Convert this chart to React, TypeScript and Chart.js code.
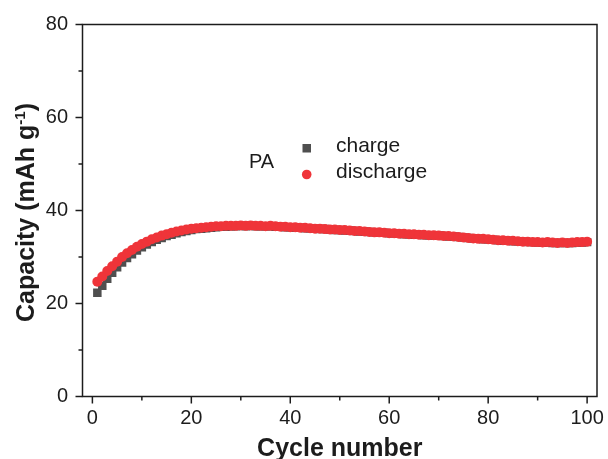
import React, { useEffect, useRef } from "react";
import { Chart, registerables } from "chart.js";

Chart.register(...registerables);

// ---- data ----
const chargeCapacity: number[] = [
  22.3, 23.8, 25.3, 26.6, 27.8, 28.8, 29.8, 30.6, 31.4, 32.1,
  32.7, 33.2, 33.7, 34.1, 34.5, 34.8, 35.1, 35.4, 35.6, 35.8,
  36.0, 36.1, 36.2, 36.3, 36.4, 36.5, 36.5, 36.6, 36.6, 36.7,
  36.6, 36.7, 36.6, 36.6, 36.6, 36.6, 36.5, 36.5, 36.4, 36.4,
  36.3, 36.3, 36.2, 36.2, 36.1, 36.0, 36.0, 35.9, 35.8, 35.8,
  35.7, 35.7, 35.6, 35.5, 35.5, 35.4, 35.3, 35.2, 35.2, 35.1,
  35.1, 35.0, 34.9, 34.9, 34.8, 34.8, 34.7, 34.7, 34.6, 34.6,
  34.5, 34.4, 34.4, 34.3, 34.2, 34.1, 34.0, 33.9, 33.8, 33.8,
  33.7, 33.6, 33.5, 33.5, 33.4, 33.4, 33.3, 33.2, 33.2, 33.1,
  33.1, 33.1, 33.0, 33.0, 33.0, 33.0, 33.0, 33.1, 33.1, 33.2,
];

const dischargeCapacity: number[] = [
  24.7, 25.8, 27.0, 28.0, 29.0, 30.0, 30.8, 31.5, 32.2, 32.8,
  33.3, 33.8, 34.2, 34.6, 34.9, 35.2, 35.5, 35.7, 35.9, 36.1,
  36.2, 36.3, 36.4, 36.5, 36.6, 36.6, 36.7, 36.7, 36.7, 36.8,
  36.7, 36.8, 36.7, 36.7, 36.6, 36.7, 36.6, 36.5, 36.5, 36.4,
  36.4, 36.3, 36.3, 36.2, 36.1, 36.1, 36.0, 35.9, 35.9, 35.8,
  35.8, 35.7, 35.6, 35.6, 35.5, 35.4, 35.3, 35.3, 35.2, 35.1,
  35.1, 35.0, 35.0, 34.9, 34.9, 34.8, 34.8, 34.7, 34.7, 34.6,
  34.5, 34.5, 34.4, 34.3, 34.2, 34.1, 34.0, 33.9, 33.9, 33.8,
  33.7, 33.6, 33.6, 33.5, 33.5, 33.4, 33.3, 33.3, 33.2, 33.2,
  33.1, 33.2, 33.1, 33.0, 33.1, 33.0, 33.1, 33.2, 33.2, 33.3,
];

const xMajorTicks: number[] = [0, 20, 40, 60, 80, 100];
const xMinorTicks: number[] = [10, 30, 50, 70, 90];
const yMajorTicks: number[] = [0, 20, 40, 60, 80];
const yMinorTicks: number[] = [10, 30, 50, 70];

const seriesLabels = { charge: "charge", discharge: "discharge" };
const sampleName = "PA";
const xTitle = "Cycle number";

const FONT = "'Liberation Sans', Arial, Helvetica, sans-serif";
const GRAY = "#4f4f4f";
const RED = "#ef3439";
const INK = "#1c1c1c";

const toPoints = (arr: number[]) => arr.map((v, i) => ({ x: i + 1, y: v }));

const decorPlugin = {
  id: "decor",
  afterDraw(chart: any) {
    const { ctx, chartArea: a, scales } = chart;
    const x = scales.x;
    const y = scales.y;
    ctx.save();
    ctx.strokeStyle = INK;
    ctx.lineWidth = 1.5;
    ctx.strokeRect(a.left, a.top, a.right - a.left, a.bottom - a.top);

    const seg = (x1: number, y1: number, x2: number, y2: number) => {
      ctx.beginPath();
      ctx.moveTo(x1, y1);
      ctx.lineTo(x2, y2);
      ctx.stroke();
    };
    xMajorTicks.forEach((v) => {
      const p = x.getPixelForValue(v);
      seg(p, a.bottom, p, a.bottom + 7);
    });
    xMinorTicks.forEach((v) => {
      const p = x.getPixelForValue(v);
      seg(p, a.bottom, p, a.bottom + 4);
    });
    yMajorTicks.forEach((v) => {
      const p = y.getPixelForValue(v);
      seg(a.left, p, a.left - 7, p);
    });
    yMinorTicks.forEach((v) => {
      const p = y.getPixelForValue(v);
      seg(a.left, p, a.left - 4, p);
    });

    // x title
    ctx.fillStyle = INK;
    ctx.font = `bold 25px ${FONT}`;
    ctx.textAlign = "center";
    ctx.textBaseline = "alphabetic";
    ctx.fillText(xTitle, (a.left + a.right) / 2, 456);

    // y title with superscript
    ctx.save();
    ctx.translate(33.5, (a.top + a.bottom) / 2 + 2);
    ctx.rotate(-Math.PI / 2);
    ctx.textAlign = "left";
    const main = "Capacity (mAh g";
    const sup = "-1";
    const end = ")";
    ctx.font = `bold 25px ${FONT}`;
    const w1 = ctx.measureText(main).width;
    const w3 = ctx.measureText(end).width;
    ctx.font = `bold 15px ${FONT}`;
    const w2 = ctx.measureText(sup).width;
    const sx = -(w1 + w2 + w3) / 2;
    ctx.font = `bold 25px ${FONT}`;
    ctx.fillText(main, sx, 0);
    ctx.font = `bold 15px ${FONT}`;
    ctx.fillText(sup, sx + w1, -9);
    ctx.font = `bold 25px ${FONT}`;
    ctx.fillText(end, sx + w1 + w2, 0);
    ctx.restore();

    // legend
    ctx.font = `20px ${FONT}`;
    ctx.textAlign = "left";
    ctx.fillText(sampleName, 249, 168.3);
    ctx.fillStyle = GRAY;
    ctx.fillRect(302.5, 144, 8.5, 8.5);
    ctx.fillStyle = RED;
    ctx.beginPath();
    ctx.arc(306.7, 174.5, 4.8, 0, Math.PI * 2);
    ctx.fill();
    ctx.fillStyle = INK;
    ctx.font = `21px ${FONT}`;
    ctx.fillText(seriesLabels.charge, 336, 152.3);
    ctx.fillText(seriesLabels.discharge, 336, 178.3);
    ctx.restore();
  },
};

export default function App() {
  const ref = useRef<HTMLCanvasElement | null>(null);
  useEffect(() => {
    document.body.style.margin = "0";
    document.body.style.overflow = "hidden";
    const canvas = ref.current;
    if (!canvas) return;
    const chart = new Chart(canvas, {
      type: "scatter",
      data: {
        datasets: [
          {
            label: seriesLabels.charge,
            data: toPoints(chargeCapacity),
            order: 2,
            pointStyle: "rect",
            pointRadius: 6,
            pointBorderWidth: 0,
            backgroundColor: GRAY,
            borderColor: GRAY,
          },
          {
            label: seriesLabels.discharge,
            data: toPoints(dischargeCapacity),
            order: 1,
            pointStyle: "circle",
            pointRadius: 5,
            pointBorderWidth: 0,
            backgroundColor: RED,
            borderColor: RED,
          },
        ],
      },
      options: {
        animation: false,
        responsive: false,
        devicePixelRatio: 1,
        layout: { padding: { top: 24.5, right: 11, left: 0, bottom: 0 } },
        plugins: {
          legend: { display: false },
          tooltip: { enabled: false },
          title: { display: false },
        },
        scales: {
          x: {
            type: "linear",
            min: -2,
            max: 102,
            grid: { display: false, drawTicks: false },
            border: { display: false },
            afterBuildTicks: (s: any) => {
              s.ticks = xMajorTicks.map((v) => ({ value: v }));
            },
            afterFit: (s: any) => {
              s.height = 62.5;
              s.paddingLeft = 0;
              s.paddingRight = 0;
            },
            ticks: {
              padding: 10,
              color: INK,
              font: { family: FONT, size: 20 },
              maxRotation: 0,
              autoSkip: false,
            },
          },
          y: {
            type: "linear",
            min: 0,
            max: 80,
            grid: { display: false, drawTicks: false },
            border: { display: false },
            afterBuildTicks: (s: any) => {
              s.ticks = yMajorTicks.map((v) => ({ value: v }));
            },
            afterFit: (s: any) => {
              s.width = 82.5;
              s.paddingTop = 0;
              s.paddingBottom = 0;
            },
            ticks: {
              padding: 14.5,
              color: INK,
              font: { family: FONT, size: 20 },
              autoSkip: false,
            },
          },
        },
      },
      plugins: [decorPlugin],
    });
    return () => chart.destroy();
  }, []);
  return (
    <div style={{ width: 608, height: 459, background: "#fff" }}>
      <canvas ref={ref} width={608} height={459} style={{ display: "block" }} />
    </div>
  );
}
